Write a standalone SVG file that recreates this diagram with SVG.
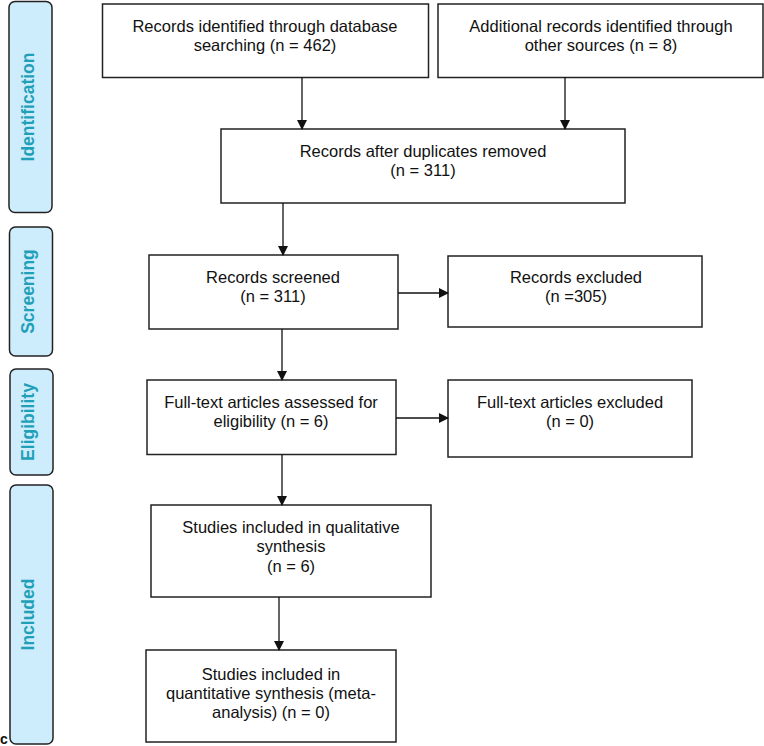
<svg xmlns="http://www.w3.org/2000/svg" width="764" height="746" viewBox="0 0 764 746">
<style>
.box{fill:#fff;stroke:#222;stroke-width:1.5}
.side{fill:#cdedfc;stroke:#222;stroke-width:1.5}
.t{font-family:"Liberation Sans",Arial,sans-serif;font-size:16.5px;fill:#111;text-anchor:middle}
.s{font-family:"Liberation Sans",Arial,sans-serif;font-size:17.5px;font-weight:bold;fill:#1fa0b8;text-anchor:middle}
.c{stroke:#111;stroke-width:1.3;fill:none}
</style>
<defs>
<marker id="ah" markerWidth="10" markerHeight="10" refX="9" refY="5" orient="auto" markerUnits="userSpaceOnUse">
<path d="M0,0 L10,5 L0,10 Z" fill="#111"/>
</marker>
</defs>
<rect width="764" height="746" fill="#fff"/>
<g id="phase-identification"><rect class="side" x="9" y="1.5" width="43" height="211" rx="6"/><text class="s" transform="translate(34,107) rotate(-90)">Identification</text></g>
<g id="phase-screening"><rect class="side" x="9.5" y="227" width="43" height="129" rx="6"/><text class="s" transform="translate(34,291.5) rotate(-90)">Screening</text></g>
<g id="phase-eligibility"><rect class="side" x="10" y="369" width="43" height="106" rx="6"/><text class="s" transform="translate(34,422) rotate(-90)">Eligibility</text></g>
<g id="phase-included"><rect class="side" x="10" y="485" width="43" height="259" rx="6"/><text class="s" transform="translate(34,614.5) rotate(-90)">Included</text></g>
<text x="0" y="744" font-family="Liberation Sans,Arial,sans-serif" font-size="14" font-weight="bold" fill="#111">c</text>

<g id="n1"><rect class="box" x="102.5" y="4" width="326" height="73.5"/><text class="t" x="265" y="32">Records identified through database</text><text class="t" x="265" y="51">searching (n = 462)</text></g>
<g id="n2"><rect class="box" x="438" y="4" width="325" height="73.5"/><text class="t" x="601" y="32">Additional records identified through</text><text class="t" x="601" y="51">other sources (n = 8)</text></g>
<g id="n3"><rect class="box" x="221" y="129" width="404" height="74"/><text class="t" x="423" y="157">Records after duplicates removed</text><text class="t" x="423" y="176">(n = 311)</text></g>
<g id="n4"><rect class="box" x="149" y="255" width="249" height="74"/><text class="t" x="273" y="283">Records screened</text><text class="t" x="273" y="302">(n = 311)</text></g>
<g id="n5"><rect class="box" x="448" y="256" width="254" height="71"/><text class="t" x="576" y="283">Records excluded</text><text class="t" x="576" y="302">(n =305)</text></g>
<g id="n6"><rect class="box" x="147" y="380" width="249" height="74.5"/><text class="t" x="271" y="408">Full-text articles assessed for</text><text class="t" x="271" y="427">eligibility (n = 6)</text></g>
<g id="n7"><rect class="box" x="448" y="380" width="244" height="77"/><text class="t" x="570" y="408">Full-text articles excluded</text><text class="t" x="570" y="427">(n = 0)</text></g>
<g id="n8"><rect class="box" x="151" y="505" width="280" height="92"/><text class="t" x="291" y="533">Studies included in qualitative</text><text class="t" x="291" y="552">synthesis</text><text class="t" x="291" y="572">(n = 6)</text></g>
<g id="n9"><rect class="box" x="146" y="650" width="250" height="92"/><text class="t" x="271" y="680">Studies included in</text><text class="t" x="271" y="699">quantitative synthesis (meta-</text><text class="t" x="271" y="718">analysis) (n = 0)</text></g>

<g id="connectors">
<line class="c" x1="302" y1="77.5" x2="302" y2="129" marker-end="url(#ah)"/>
<line class="c" x1="565" y1="77.5" x2="565" y2="129" marker-end="url(#ah)"/>
<line class="c" x1="283" y1="203" x2="283" y2="255" marker-end="url(#ah)"/>
<line class="c" x1="398" y1="293" x2="448" y2="293" marker-end="url(#ah)"/>
<line class="c" x1="282" y1="329" x2="282" y2="380" marker-end="url(#ah)"/>
<line class="c" x1="396" y1="418" x2="448" y2="418" marker-end="url(#ah)"/>
<line class="c" x1="282" y1="454.5" x2="282" y2="505" marker-end="url(#ah)"/>
<line class="c" x1="279" y1="597" x2="279" y2="650" marker-end="url(#ah)"/>
</g>
</svg>
